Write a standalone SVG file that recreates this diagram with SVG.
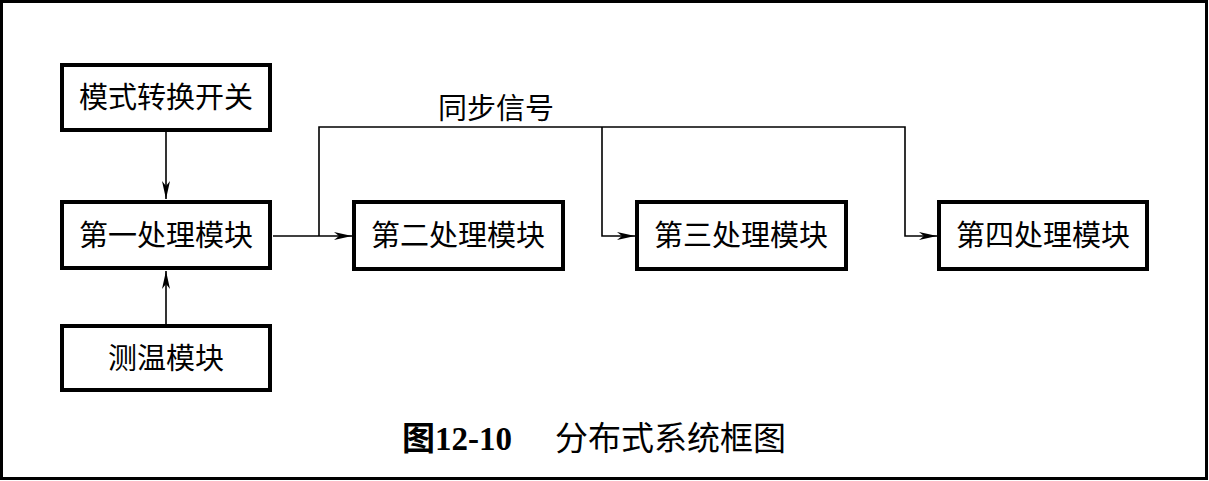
<svg xmlns="http://www.w3.org/2000/svg" width="1209" height="481" viewBox="0 0 1209 481">
<style>
.box{fill:#fff;stroke:#000;stroke-width:4}
.lbl{font-family:"Liberation Serif","Noto Sans CJK SC",serif;font-size:29px;fill:#000;text-anchor:middle}
.con{fill:none;stroke:#000;stroke-width:1.6}
.cap{font-family:"Liberation Serif","Noto Sans CJK SC",serif;font-size:33px;fill:#000}
</style>
<defs>
<marker id="arr" viewBox="0 0 18 8" refX="18" refY="4" markerWidth="18" markerHeight="8" markerUnits="userSpaceOnUse" orient="auto">
<path d="M0,0 L18,4 L0,8 L5,4 Z" fill="#000"/>
</marker>
</defs>
<rect x="1.5" y="1.5" width="1205" height="477" fill="#fff" stroke="#000" stroke-width="3"/>
<g id="connectors">
<line class="con" x1="166" y1="131" x2="166" y2="199" marker-end="url(#arr)"/>
<line class="con" x1="166" y1="325" x2="166" y2="271" marker-end="url(#arr)"/>
<line class="con" x1="273" y1="236" x2="352" y2="236" marker-end="url(#arr)"/>
<polyline class="con" points="319,236 319,127 905,127 905,236 937,236" marker-end="url(#arr)"/>
<polyline class="con" points="602,127 602,236 635,236" marker-end="url(#arr)"/>
<text class="lbl" x="496" y="119" font-size="27">同步信号</text>
</g>
<g id="mode-switch"><rect class="box" x="62" y="65" width="208" height="65"/><text class="lbl" x="166" y="108">模式转换开关</text></g>
<g id="proc1"><rect class="box" x="62" y="202" width="208" height="66"/><text class="lbl" x="166" y="246">第一处理模块</text></g>
<g id="temp"><rect class="box" x="62" y="326" width="208" height="64"/><text class="lbl" x="166" y="369">测温模块</text></g>
<g id="proc2"><rect class="box" x="354" y="202" width="209" height="67"/><text class="lbl" x="458" y="246">第二处理模块</text></g>
<g id="proc3"><rect class="box" x="637" y="202" width="209" height="67"/><text class="lbl" x="741" y="246">第三处理模块</text></g>
<g id="proc4"><rect class="box" x="939" y="202" width="208" height="67"/><text class="lbl" x="1043" y="246">第四处理模块</text></g>
<text class="cap" x="402" y="450"><tspan font-weight="bold">图12-10</tspan><tspan x="555">分布式系统框图</tspan></text>
</svg>
